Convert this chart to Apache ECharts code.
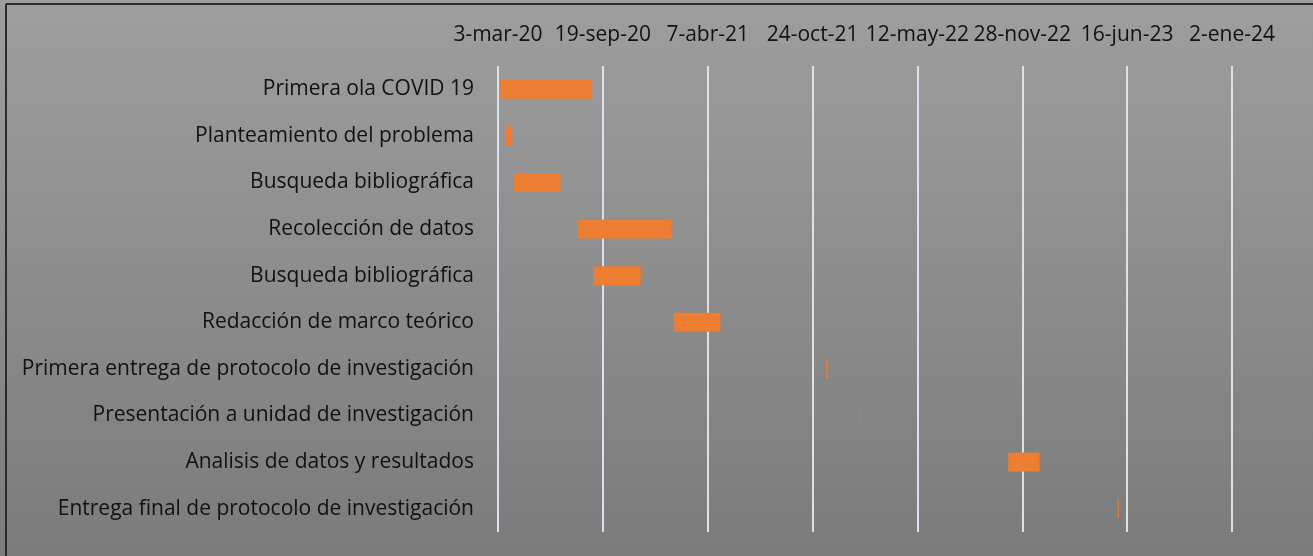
<!DOCTYPE html>
<html lang="es">
<head>
<meta charset="utf-8">
<title>Cronograma</title>
<script src="https://cdn.jsdelivr.net/npm/echarts@6/dist/echarts.min.js"></script>
<style>
  html, body { margin: 0; padding: 0; background: #9a9a9a; }
  #chart { width: 1313px; height: 556px; }
</style>
</head>
<body>
<div id="chart"></div>
<script>
// Activities of the schedule (top to bottom)
const tasks = [
  'Primera ola COVID 19',
  'Planteamiento del problema',
  'Busqueda bibliográfica',
  'Recolección de datos',
  'Busqueda bibliográfica',
  'Redacción de marco teórico',
  'Primera entrega de protocolo de investigación',
  'Presentación a unidad de investigación',
  'Analisis de datos y resultados',
  'Entrega final de protocolo de investigación'
];
// Start and end date of each activity
const startDates = [
  '2020-03-06', '2020-03-16', '2020-04-01', '2020-08-01', '2020-09-01',
  '2021-02-01', '2021-11-19', '2022-01-21', '2022-11-01', '2023-05-29'
];
const endDates = [
  '2020-08-29', '2020-03-30', '2020-06-30', '2021-01-28', '2020-11-30',
  '2021-05-01', '2021-11-22', '2022-01-22', '2022-12-31', '2023-05-31'
];
// Time axis: first tick date, step in days and number of steps
const axisStart = '2020-03-03';
const axisStepDays = 200;
const axisSteps = 7;
const monthAbbr = ['ene', 'feb', 'mar', 'abr', 'may', 'jun', 'jul', 'ago', 'sep', 'oct', 'nov', 'dic'];

const DAY = 86400000;
// Spreadsheet-style serial day number
function serial(iso) {
  const [y, m, d] = iso.split('-').map(Number);
  return Math.round((Date.UTC(y, m - 1, d) - Date.UTC(1899, 11, 30)) / DAY);
}
function fmtSerial(n) {
  const dt = new Date(Date.UTC(1899, 11, 30) + n * DAY);
  return dt.getUTCDate() + '-' + monthAbbr[dt.getUTCMonth()] + '-' + String(dt.getUTCFullYear()).slice(2);
}

const axisMin = serial(axisStart);
const axisMax = axisMin + axisStepDays * axisSteps;
const startSerial = startDates.map(serial);
const durations = endDates.map((e, i) => serial(e) - startSerial[i]);

const FONT = '"Open Sans", Lato, sans-serif';

const chart = echarts.init(document.getElementById('chart'), null, { renderer: 'canvas' });
chart.setOption({
  animation: false,
  backgroundColor: {
    type: 'linear', x: 0, y: 0, x2: 0, y2: 1,
    colorStops: [
      { offset: 0, color: '#9e9e9e' },
      { offset: 1, color: '#7b7b7b' }
    ]
  },
  graphic: [
    { type: 'line', shape: { x1: 6, y1: 4, x2: 1313, y2: 4 }, style: { stroke: '#2b2b2b', lineWidth: 2 } },
    { type: 'line', shape: { x1: 6, y1: 4, x2: 6, y2: 556 }, style: { stroke: '#2b2b2b', lineWidth: 2 } }
  ],
  grid: { left: 498, right: 81, top: 66, bottom: 24 },
  xAxis: {
    type: 'value',
    position: 'top',
    min: axisMin,
    max: axisMax,
    interval: axisStepDays,
    axisLine: { show: false },
    axisTick: { show: false },
    axisLabel: {
      margin: 20,
      color: '#111111',
      fontFamily: FONT,
      fontSize: 21,
      formatter: v => fmtSerial(v)
    },
    splitLine: { show: true, lineStyle: { color: '#dbe2ee', width: 2 } }
  },
  yAxis: {
    type: 'category',
    inverse: true,
    data: tasks,
    axisLine: { show: false },
    axisTick: { show: false },
    splitLine: { show: false },
    axisLabel: {
      margin: 24,
      color: '#111111',
      fontFamily: FONT,
      fontSize: 21
    }
  },
  series: [
    {
      name: 'Inicio',
      type: 'bar',
      stack: 'plan',
      barWidth: 19,
      itemStyle: { color: 'rgba(0,0,0,0)' },
      silent: true,
      data: startSerial
    },
    {
      name: 'Duración',
      type: 'bar',
      stack: 'plan',
      barWidth: 19,
      itemStyle: { color: '#ED7D31' },
      data: durations
    }
  ]
});
</script>
</body>
</html>
